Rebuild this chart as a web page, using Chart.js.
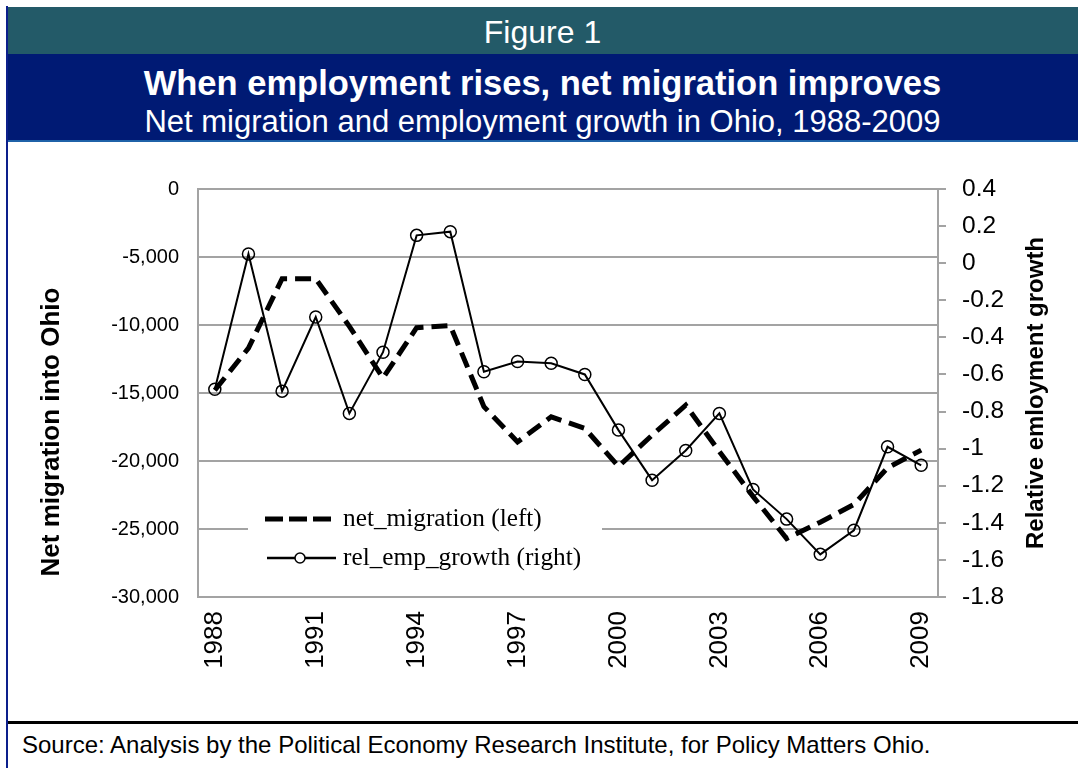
<!DOCTYPE html>
<html>
<head>
<meta charset="utf-8">
<script src="https://cdn.jsdelivr.net/npm/chart.js@4.4.0/dist/chart.umd.min.js"></script>
<style>
  body { margin: 0; width: 1078px; height: 768px; background: #fff; position: relative; overflow: hidden; font-family: "Liberation Sans", Arial, sans-serif; }
  .abs { position: absolute; }
  #edge { left: 6px; top: 6px; width: 2px; height: 762px; background: #0c1f8c; }
  #band1 { left: 7px; top: 7px; width: 1071px; height: 47px; background: #235a68; color: #fff; font-size: 32px; line-height: 50px; text-align: center; }
  #band2 { left: 7px; top: 54px; width: 1071px; height: 86px; background: #001a74; color: #fff; text-align: center; }
  #band2 .t { font-weight: bold; font-size: 34.5px; line-height: 35px; margin-top: 12px; }
  #band2 .s { font-size: 31px; line-height: 31px; margin-top: 5px; }
  #band3 { left: 7px; top: 140px; width: 1071px; height: 2px; background: #1f62a8; }
  #rule { left: 8px; top: 721px; width: 1070px; height: 3px; background: #000; }
  #source { left: 22px; top: 732px; font-size: 24px; line-height: 26px; color: #000; }
  #wrap { left: 0; top: 143px; width: 1078px; height: 577px; }
</style>
</head>
<body>
<div class="abs" id="band1">Figure 1</div>
<div class="abs" id="band2"><div class="t">When employment rises, net migration improves</div><div class="s">Net migration and employment growth in Ohio, 1988-2009</div></div>
<div class="abs" id="band3"></div>
<div class="abs" id="edge"></div>
<div class="abs" id="wrap"><canvas id="graph"></canvas></div>
<div class="abs" id="rule"></div>
<div class="abs" id="source">Source: Analysis by the Political Economy Research Institute, for Policy Matters Ohio.</div>
<script>
var years = ['1988','1989','1990','1991','1992','1993','1994','1995','1996','1997','1998',
             '1999','2000','2001','2002','2003','2004','2005','2006','2007','2008','2009'];
var netMigration = [-14800, -11700, -6600, -6600, -10100, -13900, -10200, -10050, -16000, -18600, -16750,
                    -17600, -20400, -18100, -15900, -19300, -22600, -25700, -24500, -23200, -20500, -19200];
var relEmpGrowth = [-0.68, 0.05, -0.69, -0.29, -0.81, -0.48, 0.15, 0.17, -0.585, -0.53, -0.54,
                    -0.60, -0.90, -1.17, -1.01, -0.81, -1.22, -1.38, -1.57, -1.44, -0.99, -1.09];
var seriesNames = ['net_migration (left)', 'rel_emp_growth (right)'];
var leftTitle = 'Net migration into Ohio';
var rightTitle = 'Relative emloyment growth';

var gray = '#a3a3a3';
var ctx = document.getElementById('graph').getContext('2d');

var extras = {
    id: 'extras',
    afterDraw: function(chart){
        var c = chart.ctx;
        var area = chart.chartArea;
        c.save();
        // legend box inside the plot
        c.fillStyle = '#fff';
        c.fillRect(248, 350, 354, 88);
        c.strokeStyle = '#000';
        c.lineWidth = 5;
        c.setLineDash([18, 6]);
        c.beginPath(); c.moveTo(265, 376); c.lineTo(331, 376); c.stroke();
        c.setLineDash([]);
        c.lineWidth = 2.5;
        c.beginPath(); c.moveTo(267, 415); c.lineTo(336, 415); c.stroke();
        c.fillStyle = '#fff';
        c.lineWidth = 1.5;
        c.beginPath(); c.arc(300, 415, 5, 0, Math.PI*2); c.fill(); c.stroke();
        c.fillStyle = '#000';
        c.font = '25.3px "Liberation Serif", serif';
        c.textBaseline = 'middle';
        c.textAlign = 'left';
        c.fillText(seriesNames[0], 343, 376);
        c.fillText(seriesNames[1], 343, 415);
        // axis titles
        c.font = 'bold 26px "Liberation Sans", Arial, sans-serif';
        c.textAlign = 'center';
        c.translate(52, 289);
        c.rotate(-Math.PI/2);
        c.fillText(leftTitle, 0, 0);
        c.restore();
        c.save();
        c.fillStyle = '#000';
        c.textBaseline = 'middle';
        c.textAlign = 'center';
        c.font = 'bold 24px "Liberation Sans", Arial, sans-serif';
        c.translate(1036, (area.top + area.bottom)/2);
        c.rotate(-Math.PI/2);
        c.fillText(rightTitle, 0, 0);
        c.restore();
    }
};

var chart = new Chart(ctx, {
    type: 'line',
    data: {
        labels: years,
        datasets: [
            {
                label: seriesNames[0],
                data: netMigration,
                yAxisID: 'y',
                borderColor: '#000',
                borderWidth: 5,
                borderDash: [16, 8],
                pointRadius: 0,
                fill: false,
                tension: 0
            },
            {
                label: seriesNames[1],
                data: relEmpGrowth,
                yAxisID: 'y1',
                borderColor: '#000',
                borderWidth: 2,
                pointRadius: 6,
                pointStyle: 'circle',
                pointBackgroundColor: 'rgba(0,0,0,0)',
                pointBorderColor: '#000',
                pointBorderWidth: 1.5,
                fill: false,
                tension: 0
            }
        ]
    },
    options: {
        responsive: true,
        maintainAspectRatio: false,
        animation: false,
        layout: { padding: { top: 46, left: 0, right: 0, bottom: 0 } },
        plugins: { legend: { display: false }, tooltip: { enabled: false } },
        scales: {
            x: {
                offset: true,
                grid: { display: false, drawTicks: false },
                border: { display: true, color: gray, width: 2 },
                ticks: {
                    color: '#000',
                    font: { family: '"Liberation Sans", Arial, sans-serif', size: 26 },
                    minRotation: 90, maxRotation: 90,
                    autoSkip: false,
                    padding: 14,
                    callback: function(v, i){ return i % 3 === 0 ? years[i] : ''; }
                },
                afterFit: function(s){ s.height = 123; }
            },
            y: {
                position: 'left',
                min: -30000, max: 0,
                grid: { color: gray, lineWidth: 2, drawTicks: false },
                border: { color: gray, width: 2 },
                ticks: {
                    stepSize: 5000,
                    color: '#000',
                    padding: 19,
                    font: { family: '"Liberation Sans", Arial, sans-serif', size: 20 },
                    callback: function(v){ return v.toLocaleString('en-US'); }
                },
                afterFit: function(s){ s.width = 198; }
            },
            y1: {
                position: 'right',
                min: -1.8, max: 0.4,
                grid: { drawOnChartArea: false, color: gray, lineWidth: 2, tickLength: 8 },
                border: { color: gray, width: 2 },
                ticks: {
                    stepSize: 0.2,
                    color: '#000',
                    padding: 16,
                    font: { family: '"Liberation Sans", Arial, sans-serif', size: 24.5 },
                    callback: function(v){ return String(Math.round(v*10)/10); }
                },
                afterFit: function(s){ s.width = 140; }
            }
        }
    },
    plugins: [extras]
});
</script>
</body>
</html>
